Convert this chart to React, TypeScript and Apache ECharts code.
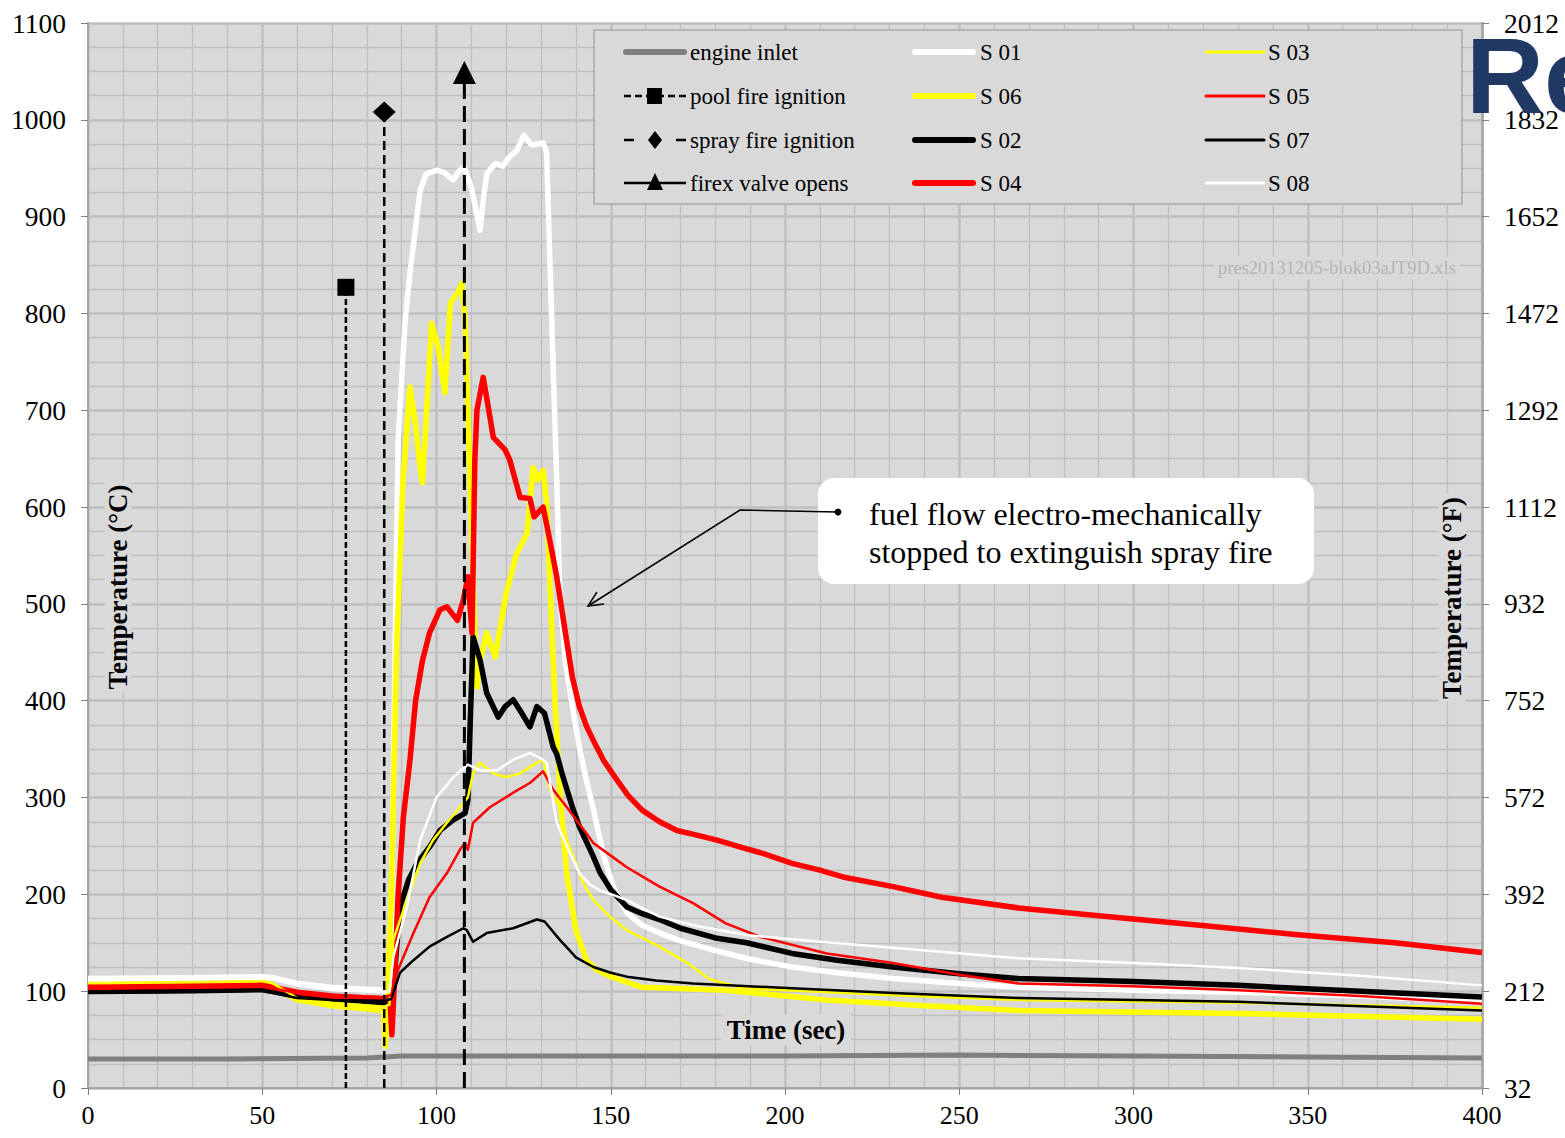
import React, { useEffect, useRef } from 'react';
import * as echarts from 'echarts';

type P = [number, number];

// ---------- data (time sec, temperature °C) ----------
const ENGINE_INLET: P[] = [[0,30],[40,30],[80,31],[90,33],[150,33],[200,33],[250,34],[300,33],[350,32],[400,31]];

const S01: P[] = [[0,113],[30,114],[50,115],[53,114],[60,108],[70,104],[85,101],[86.8,103],[88,420],[89,669],[91,793],[92.4,842],[95.3,927],[97,944],[100,948],[102,946],[104.8,938],[106.7,948],[108,951],[110,930],[112.5,886],[113.5,920],[114.5,945],[117,955],[119,952],[121,962],[123,968],[125,984],[127.3,974],[130.6,976],[131.6,966],[133,800],[134.5,628],[135.4,507],[137,440],[139,394],[141,352],[143,318],[145,288],[148,239],[151,205],[154.6,181],[159,168],[164,160],[170,152],[179,143],[190,133],[202,125],[215,119],[231,113],[250,108],[267,104],[300,101],[330,99],[365,95],[400,89]];

const S06: P[] = [[0,106],[30,107],[50,108],[53,104],[60,91],[70,85],[84.8,80],[85.3,43],[85.8,80],[87,194],[88.5,450],[90.4,628],[92.4,724],[93.8,690],[95.3,641],[96,625],[98.6,790],[100.5,765],[102.4,718],[104,811],[106,821],[107.3,831],[108.2,793],[109.6,628],[111,470],[111.6,414],[112.5,440],[114.4,470],[116.8,445],[120,511],[123,552],[126,573],[127.7,641],[129,628],[130.6,638],[131.6,604],[133,480],[134,400],[135.5,300],[137.4,220],[140,163],[143,132],[146,122],[150,115],[159,104],[183,101],[212,91],[240,85],[267,80],[330,77],[400,71]];

const S02: P[] = [[0,100],[30,101],[50,102],[53,100],[60,95],[70,92],[85,88],[87,92],[88,120],[89.5,187],[92,215],[94.4,232],[98,249],[101,266],[104.8,277],[108.2,284],[109,297],[109.7,380],[110.5,466],[112.5,442],[114.4,408],[117.7,383],[119.7,394],[122,401],[124.5,387],[126.8,373],[128.8,394],[131,387],[133.5,352],[134.5,345],[136,325],[139,290],[141,270],[145,239],[147,222],[150,205],[154.6,187],[159,180],[164,174],[170,165],[180,155],[189,150],[202,139],[215,132],[231,125],[250,118],[267,113],[300,110],[330,106],[365,100],[400,94]];

const S04: P[] = [[0,104],[30,105],[50,106],[53,104],[60,99],[70,95],[85,92],[86.6,93],[87.2,55],[87.8,100],[89,200],[90.5,280],[92.4,339],[94,400],[96,442],[98,470],[101,494],[103,497],[106,483],[107.7,504],[109,528],[110.2,470],[111,649],[111.6,700],[113.4,734],[115,700],[116.3,672],[119.7,659],[121,649],[124,610],[126.8,609],[128,590],[130.6,600],[132,575],[134.5,528],[137,470],[139,424],[141,394],[143,374],[145,359],[148,338],[151.8,318],[155,302],[159,287],[164,275],[169,266],[175,261],[180.5,256],[187,249],[193,243],[202,232],[210,225],[216.6,218],[231,208],[245,197],[267,186],[290,178],[319,168],[348,158],[375,150],[400,140]];

const S03: P[] = [[0,110],[30,111],[50,112],[53,108],[60,93],[70,88],[85,84],[86.5,86],[87.6,153],[91.5,194],[95.3,232],[99,256],[103,274],[106.7,290],[109,300],[110.5,325],[112.5,336],[116.3,325],[120,321],[124,325],[128.8,336],[130.6,339],[132.6,308],[135.4,290],[137.4,256],[140,232],[142,212],[145,194],[150,176],[154.6,163],[164,146],[172,129],[178.5,112],[188,103],[230,96],[267,91],[330,88],[400,83]];

const S05: P[] = [[0,103],[30,104],[50,105],[53,103],[60,98],[70,96],[85,94],[87,96],[88.6,119],[93.4,160],[98,197],[103,222],[106.7,246],[108.2,253],[109,246],[110.5,274],[115.3,290],[122,305],[126.8,315],[130.6,327],[133.5,308],[137.4,290],[143,263],[145,253],[150,240],[154.6,228],[164,208],[173.6,191],[183,170],[193,156],[212,139],[231,129],[250,117],[267,108],[300,105],[330,101],[365,95],[400,87]];

const S07: P[] = [[0,98],[30,99],[50,100],[53,98],[60,93],[70,91],[85,90],[87,92],[87.6,98],[89.5,119],[93.4,132],[98,146],[103,156],[107.7,165],[108.7,163],[110.5,151],[114.4,160],[122,165],[128.8,174],[131,172],[135.4,153],[138,143],[140,135],[145,125],[150,119],[154.6,115],[163,111],[173.6,108],[202,103],[231,98],[267,93],[330,89],[400,80]];

const S08: P[] = [[0,111],[30,112],[50,113],[53,112],[60,106],[70,101],[85,99],[86.5,100],[87.6,135],[91.5,187],[95.3,256],[100,300],[104.8,321],[109,334],[112.5,328],[117.3,328],[122,339],[126.8,346],[129.7,341],[131.6,336],[134.5,274],[138,245],[141,222],[144,210],[147,204],[151,199],[154.6,194],[160,184],[164,177],[175,167],[189,158],[210,151],[230,145],[267,134],[300,129],[330,124],[365,116],[400,106]];

const EVENT_NAMES = ['pool fire ignition', 'spray fire ignition', 'firex valve opens'];
const EVENT_TIMES = [74, 85, 108];
const EVENT_TOPS = [827, 1008, 1049];

const X_MIN = 0, X_MAX = 400, X_STEP = 50;
const Y_MIN = 0, Y_MAX = 1100, Y_STEP = 100;

const FONT = "'Liberation Serif', 'Times New Roman', serif";

// ---------- styles ----------
const SENSORS = [
  { name: 'S 01', data: S01, color: '#ffffff', width: 5.5 },
  { name: 'S 06', data: S06, color: '#ffff00', width: 5.5 },
  { name: 'S 02', data: S02, color: '#000000', width: 5.5 },
  { name: 'S 04', data: S04, color: '#ff0000', width: 5.5 },
  { name: 'S 03', data: S03, color: '#ffff00', width: 2.5 },
  { name: 'S 05', data: S05, color: '#ff0000', width: 2.5 },
  { name: 'S 07', data: S07, color: '#000000', width: 2.5 },
  { name: 'S 08', data: S08, color: '#ffffff', width: 2.5 },
];
const EVENT_STYLE = [
  { symbol: 'rect', size: 17, dash: [6, 3], width: 2.5 },
  { symbol: 'diamond', size: [23, 21], dash: [9, 5], width: 2.5 },
  { symbol: 'triangle', size: 23, dash: [16, 7], width: 3 },
];

function buildOption() {
  const series: any[] = [];
  SENSORS.forEach((s) => {
    series.push({
      name: s.name, type: 'line', data: s.data, symbol: 'none', showSymbol: false,
      lineStyle: { color: s.color, width: s.width, join: 'round' }, itemStyle: { color: s.color },
      z: 3,
    });
  });
  series.push({
    name: 'engine inlet', type: 'line', data: ENGINE_INLET, symbol: 'none', showSymbol: false,
    lineStyle: { color: '#808080', width: 5 }, z: 3,
  });
  EVENT_NAMES.forEach((n, i) => {
    const st = EVENT_STYLE[i];
    series.push({
      name: n, type: 'line', z: 4,
      symbol: st.symbol, symbolSize: st.size, showSymbol: true,
      itemStyle: { color: '#000' },
      lineStyle: { color: '#000', width: st.width, type: st.dash },
      data: [
        { value: [EVENT_TIMES[i], 0], symbol: 'none' },
        { value: [EVENT_TIMES[i], EVENT_TOPS[i]] },
      ],
    });
  });

  const gridColor = '#bfbfbf';
  const el: any[] = [];
  // legend box
  el.push({ type: 'rect', z: 10, shape: { x: 594, y: 30, width: 868, height: 174 }, style: { fill: '#d9d9d9', stroke: '#a9a9a9', lineWidth: 1.5 } });
  const rows = [52, 96, 140, 183];
  const txt = (x: number, y: number, t: string) => ({
    type: 'text', z: 11, x, y,
    style: { text: t, fontFamily: FONT, fontSize: 23, fill: '#000', verticalAlign: 'middle', align: 'left' },
  });
  const seg = (x1: number, x2: number, y: number, color: string, w: number) => ({
    type: 'line', z: 11, shape: { x1, y1: y, x2, y2: y },
    style: { stroke: color, lineWidth: w, lineCap: 'round' },
  });
  // col 1
  el.push(seg(626, 684, rows[0], '#808080', 6));
  el.push(txt(690, rows[0], 'engine inlet'));
  el.push({ type: 'line', z: 11, shape: { x1: 624, y1: rows[1], x2: 686, y2: rows[1] }, style: { stroke: '#000', lineWidth: 2.5, lineDash: [7, 4] } });
  el.push({ type: 'rect', z: 12, shape: { x: 647, y: rows[1] - 8, width: 15, height: 16 }, style: { fill: '#000' } });
  el.push(txt(690, rows[1], EVENT_NAMES[0]));
  el.push({ type: 'line', z: 11, shape: { x1: 624, y1: rows[2], x2: 634, y2: rows[2] }, style: { stroke: '#000', lineWidth: 2.5 } });
  el.push({ type: 'line', z: 11, shape: { x1: 676, y1: rows[2], x2: 686, y2: rows[2] }, style: { stroke: '#000', lineWidth: 2.5 } });
  el.push({ type: 'polygon', z: 12, shape: { points: [[655, rows[2] - 9], [662, rows[2]], [655, rows[2] + 9], [648, rows[2]]] }, style: { fill: '#000' } });
  el.push(txt(690, rows[2], EVENT_NAMES[1]));
  el.push({ type: 'line', z: 11, shape: { x1: 624, y1: rows[3], x2: 686, y2: rows[3] }, style: { stroke: '#000', lineWidth: 2.5 } });
  el.push({ type: 'polygon', z: 12, shape: { points: [[655, rows[3] - 10], [663, rows[3] + 7], [647, rows[3] + 7]] }, style: { fill: '#000' } });
  el.push(txt(690, rows[3], EVENT_NAMES[2]));
  // col 2 / col 3
  const col2 = SENSORS.slice(0, 4);
  const col3 = SENSORS.slice(4, 8);
  col2.forEach((s, i) => {
    el.push(seg(915, 973, rows[i], s.color, 6));
    el.push(txt(980, rows[i], s.name));
  });
  col3.forEach((s, i) => {
    el.push(seg(1206, 1264, rows[i], s.color, 3));
    el.push(txt(1268, rows[i], s.name));
  });

  // watermark
  el.push({ type: 'text', z: 10, x: 1337, y: 268, style: { text: 'pres20131205-blok03aJT9D.xls', fontFamily: FONT, fontSize: 18.5, fill: '#b5b5b5', align: 'center', verticalAlign: 'middle', backgroundColor: '#d9d9d9', padding: [2, 4] } });

  // axis titles
  const titleStyle = { fontFamily: FONT, fontSize: 27, fontWeight: 'bold', fill: '#000', align: 'center', verticalAlign: 'middle', backgroundColor: '#d9d9d9', padding: [0, 3] };
  el.push({ type: 'text', z: 10, x: 118, y: 587, rotation: Math.PI / 2, style: { ...titleStyle, text: 'Temperature (°C)' } });
  el.push({ type: 'text', z: 10, x: 1452, y: 598, rotation: Math.PI / 2, style: { ...titleStyle, text: 'Temperature (°F)' } });
  el.push({ type: 'text', z: 10, x: 786, y: 1030, style: { ...titleStyle, text: 'Time (sec)', padding: [2, 6] } });

  // annotation
  el.push({ type: 'rect', z: 10, shape: { x: 818, y: 478, width: 496, height: 106, r: 16 }, style: { fill: '#ffffff' } });
  el.push({ type: 'text', z: 11, x: 869, y: 533, style: { text: 'fuel flow electro-mechanically\nstopped to extinguish spray fire', fontFamily: FONT, fontSize: 32, lineHeight: 38, fill: '#000', align: 'left', verticalAlign: 'middle' } });
  el.push({ type: 'polyline', z: 11, shape: { points: [[838, 512], [740, 510], [588, 606]] }, style: { stroke: '#000', lineWidth: 1.5, fill: null } });
  el.push({ type: 'polyline', z: 11, shape: { points: [[597, 592], [588, 606], [604, 604]] }, style: { stroke: '#000', lineWidth: 1.5, fill: null } });
  el.push({ type: 'circle', z: 12, shape: { cx: 838, cy: 512, r: 3.5 }, style: { fill: '#000' } });

  // slide title fragment
  el.push({ type: 'text', z: 100, x: 1466, y: 75, style: { text: 'Re', fontFamily: "'Liberation Sans', Arial, sans-serif", fontSize: 108, fontWeight: 'bold', fill: '#1f3864', align: 'left', verticalAlign: 'middle' } });

  const axisLabel = { fontFamily: FONT, fontSize: 26, color: '#000' };
  const yLabel = { fontFamily: FONT, fontSize: 27.5, color: '#000' };

  return {
    animation: false,
    backgroundColor: '#ffffff',
    grid: { left: 88, right: 83, top: 23, bottom: 50, show: true, backgroundColor: '#d9d9d9', borderWidth: 0 },
    xAxis: {
      type: 'value', min: X_MIN, max: X_MAX, interval: X_STEP,
      axisLine: { show: true, onZero: false, lineStyle: { color: '#a6a6a6', width: 2 } },
      axisTick: { show: true, length: 7, lineStyle: { color: '#808080' } },
      axisLabel: { ...axisLabel, margin: 14, formatter: (v: number) => String(v) },
      splitLine: { show: true, lineStyle: { color: gridColor, width: 2.5 } },
      minorTick: { show: false, splitNumber: 5 },
      minorSplitLine: { show: true, lineStyle: { color: gridColor, width: 1.3 } },
    },
    yAxis: [
      {
        type: 'value', min: Y_MIN, max: Y_MAX, interval: Y_STEP, position: 'left',
        axisLine: { show: true, lineStyle: { color: '#a6a6a6', width: 2 } },
        axisTick: { show: true, length: 7, lineStyle: { color: '#808080' } },
        axisLabel: { ...yLabel, margin: 22, formatter: (v: number) => String(v) },
        splitLine: { show: true, lineStyle: { color: gridColor, width: 2.5 } },
        minorTick: { show: false, splitNumber: 4 },
        minorSplitLine: { show: true, lineStyle: { color: gridColor, width: 1.3 } },
      },
      {
        type: 'value', min: Y_MIN, max: Y_MAX, interval: Y_STEP, position: 'right',
        axisLine: { show: true, lineStyle: { color: '#a6a6a6', width: 2.5 } },
        axisTick: { show: true, length: 7, lineStyle: { color: '#808080' } },
        axisLabel: { ...yLabel, margin: 22, formatter: (v: number) => String(Math.round(v * 1.8 + 32)) },
        splitLine: { show: false },
      },
    ],
    series,
    graphic: { elements: el },
  };
}

export default function App() {
  const ref = useRef<HTMLDivElement>(null);
  useEffect(() => {
    document.body.style.margin = '0';
    const chart = echarts.init(ref.current!, null, { renderer: 'svg' });
    chart.setOption(buildOption() as any);
    return () => chart.dispose();
  }, []);
  return <div ref={ref} style={{ width: 1565, height: 1138 }} />;
}
